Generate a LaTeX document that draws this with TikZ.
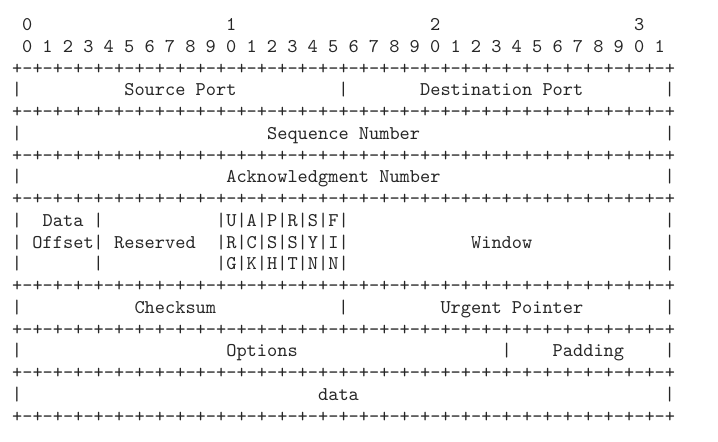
\documentclass[tikz,border=0pt]{standalone}
\usepackage{fontspec}
\newfontfamily\rfcfont{lmmono10-regular}[Extension=.otf]
\newcommand{\sepquarter}{+-+-+-+-}
\newcommand{\sepline}{\sepquarter\sepquarter\sepquarter\sepquarter\sepquarter\sepquarter\sepquarter\sepquarter+}

\begin{document}
\begin{tikzpicture}[x=10.2pt,y=-21.75pt,
    every node/.style={inner sep=0pt,text=black!85,
      font=\rfcfont\fontsize{19.43pt}{21.75pt}\selectfont},
    ch/.style={anchor=base},
    lbl/.style={anchor=base west}]
  \useasboundingbox (-17pt,30.5pt) rectangle (701pt,-411.5pt);
  % bit numbering
  \foreach \d in {0,...,3}
    \node[ch] (dec\d) at (20*\d+1,0) {\d};
  \foreach \b in {0,...,31}{
    \pgfmathtruncatemacro{\u}{mod(\b,10)}
    \node[ch] (bit\b) at (2*\b+1,1) {\u};
  }
  % separator lines
  \foreach \r in {2,4,6,8,12,14,16,18}
    \node[lbl] (sep\r) at (-0.5,\r) {\sepline};
  % field borders
  \foreach \c/\r in {0/3,32/3,64/3,0/5,64/5,0/7,64/7,0/13,32/13,64/13,
                     0/15,48/15,64/15,0/17,64/17}
    \node[ch] (bar-\r-\c) at (\c,\r) {|};
  \foreach \r in {9,10,11}
    \foreach \c in {0,8,64}
      \node[ch] (bar-\r-\c) at (\c,\r) {|};
  % control bits
  \node[lbl] (flagsa) at (19.5,9) {|U|A|P|R|S|F|};
  \node[lbl] (flagsb) at (19.5,10) {|R|C|S|S|Y|I|};
  \node[lbl] (flagsc) at (19.5,11) {|G|K|H|T|N|N|};
  % field names
  \node[lbl] (srcport) at (10.5,3) {Source Port};
  \node[lbl] (dstport) at (39.5,3) {Destination Port};
  \node[lbl] (seqnum) at (24.5,5) {Sequence Number};
  \node[lbl] (acknum) at (20.5,7) {Acknowledgment Number};
  \node[lbl] (offset1) at (2.5,9) {Data};
  \node[lbl] (offset2) at (1.5,10) {Offset};
  \node[lbl] (reserved) at (9.5,10) {Reserved};
  \node[lbl] (window) at (44.5,10) {Window};
  \node[lbl] (checksum) at (11.5,13) {Checksum};
  \node[lbl] (urgptr) at (41.5,13) {Urgent Pointer};
  \node[lbl] (options) at (20.5,15) {Options};
  \node[lbl] (padding) at (52.5,15) {Padding};
  \node[lbl] (data) at (29.5,17) {data};
\end{tikzpicture}
\end{document}
